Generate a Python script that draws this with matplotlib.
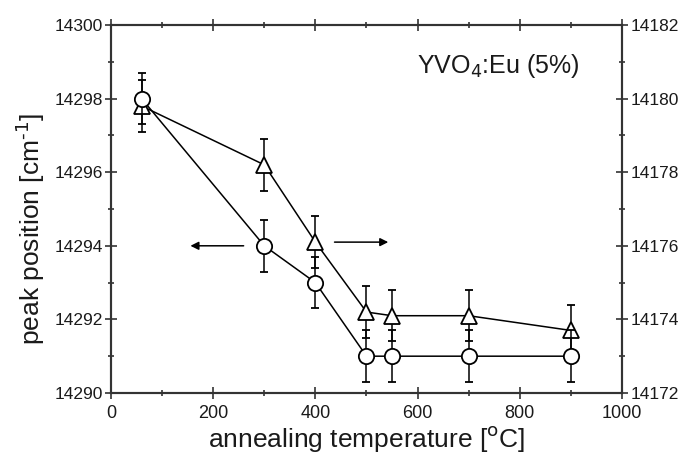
import numpy as np
import matplotlib
matplotlib.use('Agg')
import matplotlib.pyplot as plt
from matplotlib.ticker import MultipleLocator

plt.rcParams['font.family'] = ['Liberation Sans', 'DejaVu Sans']

### Data
temp = [60, 300, 400, 500, 550, 700, 900]
# circles -> left axis
peak_left = [14298.0, 14294.0, 14293.0, 14291.0, 14291.0, 14291.0, 14291.0]
err_left = [0.7, 0.7, 0.7, 0.7, 0.7, 0.7, 0.7]
# triangles -> right axis
peak_right = [14179.8, 14178.2, 14176.1, 14174.2, 14174.1, 14174.1, 14173.7]
err_right = [0.7, 0.7, 0.7, 0.7, 0.7, 0.7, 0.7]

label_text = r'YVO$_4$:Eu (5%)'

fig = plt.figure(figsize=(6.83, 4.55), dpi=100)
ax1 = fig.add_axes([0.1625, 0.1363, 0.7482, 0.8087])
ax2 = ax1.twinx()

axcol = '#333333'
txtcol = '#1a1a1a'

# triangles (right axis) drawn below the circles
ax2.errorbar(temp, peak_right, yerr=err_right, fmt='-^', color='black', mfc='white', mec='black',
			 ms=12, mew=1.3, lw=1.1, elinewidth=1.1, capsize=3, capthick=1.1)
ax1.errorbar(temp, peak_left, yerr=err_left, fmt='-o', color='black', mfc='white', mec='black',
			 ms=11, mew=1.3, lw=1.1, elinewidth=1.1, capsize=3, capthick=1.1)
ax1.set_zorder(ax2.get_zorder() + 1)
ax1.patch.set_visible(False)

# arrows pointing to the corresponding axis
ax1.annotate('', xy=(150, 14294.0), xytext=(265, 14294.0),
			 arrowprops=dict(arrowstyle='-|>', color='black', lw=1.1, mutation_scale=12))
ax2.annotate('', xy=(548, 14176.1), xytext=(432, 14176.1),
			 arrowprops=dict(arrowstyle='-|>', color='black', lw=1.1, mutation_scale=12))

ax1.text(918, 14298.9, label_text, ha='right', va='center', fontsize=18, color=txtcol)

ax1.set_xlim(0, 1000)
ax1.set_ylim(14290, 14300)
ax2.set_ylim(14172, 14182)

ax1.xaxis.set_major_locator(MultipleLocator(200))
ax1.xaxis.set_minor_locator(MultipleLocator(100))
ax1.yaxis.set_major_locator(MultipleLocator(2))
ax1.yaxis.set_minor_locator(MultipleLocator(1))
ax2.yaxis.set_major_locator(MultipleLocator(2))
ax2.yaxis.set_minor_locator(MultipleLocator(1))
ax1.yaxis.set_major_formatter(matplotlib.ticker.FormatStrFormatter('%d'))
ax2.yaxis.set_major_formatter(matplotlib.ticker.FormatStrFormatter('%d'))

ax1.tick_params(axis='both', which='major', direction='inout', length=8, width=1.2, colors=axcol,
				labelsize=12.5, labelcolor=txtcol)
ax1.tick_params(axis='both', which='minor', direction='inout', length=5, width=1.2, colors=axcol)
ax1.tick_params(axis='x', which='both', top=True, pad=5)
ax1.tick_params(axis='x', which='major', labelsize=13)
ax1.tick_params(axis='y', which='both', right=False, pad=2)
ax2.tick_params(axis='y', which='major', direction='inout', length=8, width=1.2, colors=axcol,
				labelsize=12.5, labelcolor=txtcol, pad=2)
ax2.tick_params(axis='y', which='minor', direction='inout', length=5, width=1.2, colors=axcol)

for ax in [ax1, ax2]:
	for sp in ax.spines.values():
		sp.set_color(axcol)
		sp.set_linewidth(1.5)

ax1.set_xlabel(r'annealing temperature [$^{\rm o}$C]', fontsize=19, labelpad=1, color=txtcol)
ax1.set_ylabel(r'peak position [cm$^{\text{-1}}$]', fontsize=19, labelpad=2, color=txtcol)
ax1.yaxis.set_label_coords(-0.125, 0.445)

plt.savefig('out.png', dpi=100)
